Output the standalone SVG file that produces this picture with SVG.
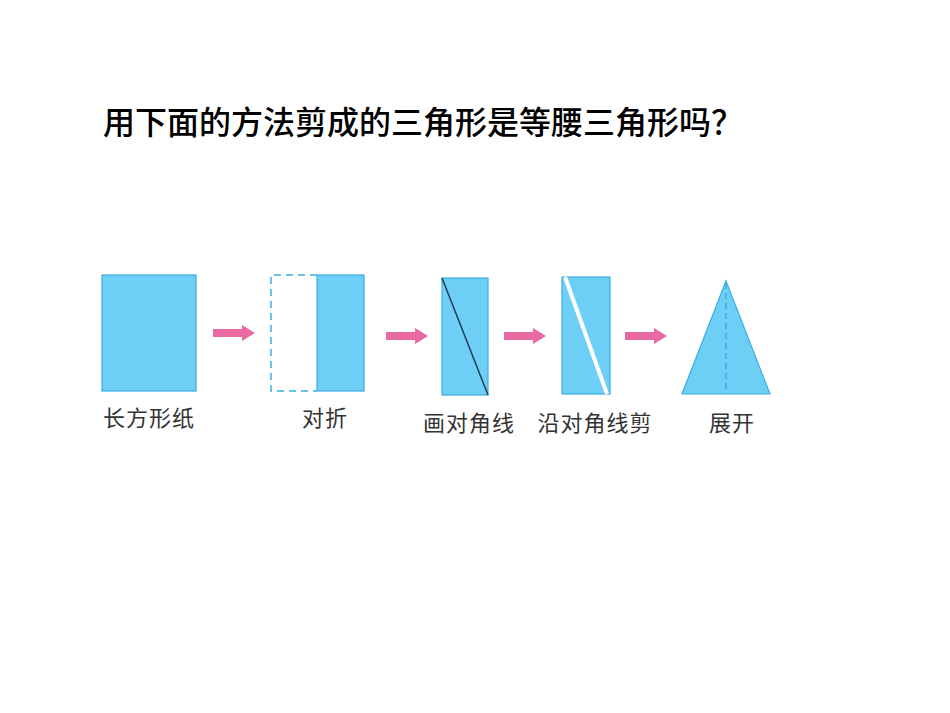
<svg xmlns="http://www.w3.org/2000/svg" width="950" height="713" viewBox="0 0 950 713">
<defs>
<style>
.title{font-family:"Noto Sans CJK SC","Noto Sans",sans-serif;font-size:32px;font-weight:500;fill:#000}
.lbl{font-family:"Noto Sans CJK SC","Noto Sans",sans-serif;font-size:22px;fill:#333;text-anchor:middle;letter-spacing:1px}
.paper{fill:#6dcff6;stroke:#3aaee0;stroke-width:1.2}
.arrow{fill:#e96aa2}
.dash{fill:none;stroke:#3aaee0;stroke-width:1.5;stroke-dasharray:7,5}
</style>
<polygon id="arr" class="arrow" points="0,-4 29,-4 29,-8 42,0 29,8 29,4 0,4"/>
</defs>
<rect width="950" height="713" fill="#fff"/>
<text class="title" x="103" y="134">用下面的方法剪成的三角形是等腰三角形吗？</text>
<g id="connectors">
<use href="#arr" x="213" y="333"/>
<use href="#arr" x="386" y="336"/>
<use href="#arr" x="504" y="336"/>
<use href="#arr" x="625" y="336"/>
</g>
<g id="step1">
<rect class="paper" x="102" y="275" width="94" height="116"/>
<text class="lbl" x="149" y="426">长方形纸</text>
</g>
<g id="step2">
<path class="dash" d="M317,275 H271 V391 H317"/>
<rect class="paper" x="317" y="275" width="47" height="116"/>
<text class="lbl" x="325" y="426">对折</text>
</g>
<g id="step3">
<rect class="paper" x="442" y="278" width="46" height="117"/>
<line x1="442" y1="278" x2="488" y2="395" stroke="#1d3d55" stroke-width="1.5"/>
<text class="lbl" x="469" y="431">画对角线</text>
</g>
<g id="step4">
<rect class="paper" x="562" y="277" width="48" height="117"/>
<line x1="565" y1="277" x2="607" y2="394" stroke="#fff" stroke-width="4"/>
<text class="lbl" x="595" y="431">沿对角线剪</text>
</g>
<g id="step5">
<polygon class="paper" points="726,281 770,394 682,394"/>
<line x1="726" y1="283" x2="726" y2="393" stroke="#3aaee0" stroke-width="1.5" stroke-dasharray="6,4"/>
<text class="lbl" x="732" y="431">展开</text>
</g>
</svg>
